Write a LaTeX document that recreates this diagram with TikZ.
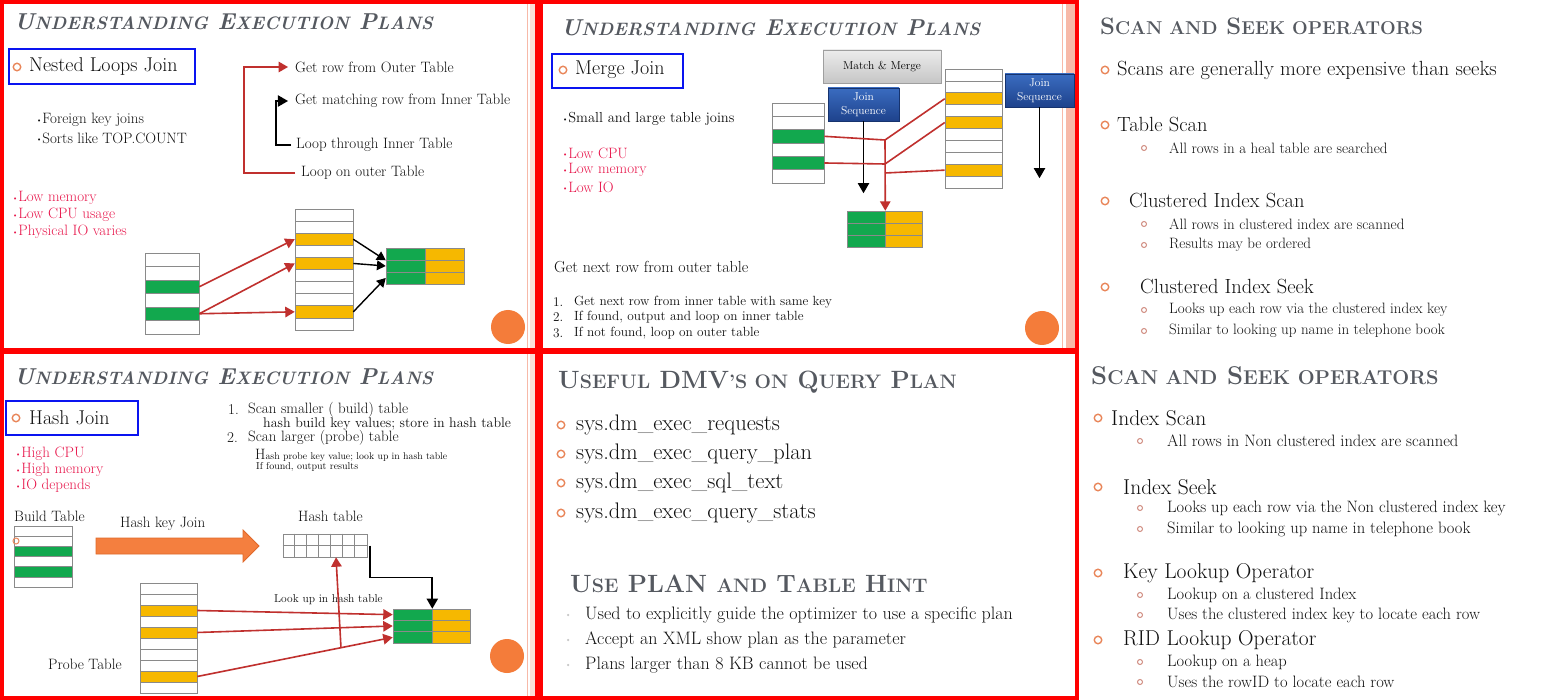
\documentclass[tikz,border=0pt]{standalone}
\usetikzlibrary{arrows,positioning}
\definecolor{ttlgray}{HTML}{555960}
\definecolor{txtblack}{HTML}{101010}
\definecolor{warnred}{HTML}{E8174C}
\definecolor{framered}{HTML}{FF0000}
\definecolor{boxblue}{HTML}{0A14F0}
\definecolor{rgreen}{HTML}{12A84E}
\definecolor{ryellow}{HTML}{F6B800}
\definecolor{arrred}{HTML}{C0302E}
\definecolor{dotorange}{HTML}{F47C3A}
\definecolor{ringorange}{HTML}{E9865A}
\definecolor{subpink}{HTML}{D08C80}
\definecolor{stripe}{HTML}{F7B9A8}
\definecolor{cellgray}{HTML}{8A8A8A}
\definecolor{seqtop}{HTML}{3A6CC0}
\definecolor{seqbot}{HTML}{1E428C}
\definecolor{seqedge}{HTML}{16336E}
\definecolor{bigorange}{HTML}{F47F3F}
\definecolor{bigedge}{HTML}{E0692A}
\newcommand{\smc}[1]{{\fontsize{\smcsize}{\smcsize}\selectfont #1}}
\def\smcsize{18}
\newcommand{\dotb}{\raisebox{1.5pt}{\fontsize{7}{7}\selectfont\textbullet}}
\begin{document}
\begin{tikzpicture}[x=1pt,y=-1pt,
    every node/.style={inner sep=0pt},
    ttl/.style 2 args={anchor=base west, text=ttlgray, font=\bfseries\fontsize{#1}{#1}\selectfont\def\smcsize{#2}},
    txt/.style={anchor=west, text=txtblack, font=\fontsize{#1}{#1}\selectfont},
    txt/.default=15,
    warn/.style={txt=#1, text=warnred},
    warn/.default=15,
    selbox/.style={draw=boxblue, line width=1.8pt, anchor=north west},
    ring/.style={circle, draw=ringorange, line width=1.4pt, minimum size=7.5pt},
    subring/.style={circle, draw=subpink, line width=1pt, minimum size=5pt},
    cell/.style={draw=cellgray, line width=0.6pt},
    redarr/.style={draw=arrred, line width=1.6pt, -triangle 60},
    blkarr/.style={draw=black, line width=1.8pt, -triangle 60},
    seqbox/.style={draw=seqedge, top color=seqtop, bottom color=seqbot, text=white, align=center, font=\fontsize{11.5}{14}\selectfont}]
\useasboundingbox (0,0) rectangle (1553,700);
\fill[white] (0,0) rectangle (1553,700);
%draw slide decorations
    \foreach \y in {4,354}{
       \fill[stripe!45] (530,\y) rectangle (536,\y+344);
       \draw[stripe, line width=1pt] (527,\y) -- (527,\y+344);}
    \draw[stripe, line width=1pt] (1062,4) -- (1062,348);
    \fill[stripe] (1066,4) rectangle (1075,348);
    \fill[dotorange] (508,327) circle (17pt) (1042,328) circle (17pt) (507,656) circle (17pt);

%%% nested loops join
    \node[ttl={23}{18}] (ttla) at (14,30) {\itshape U\smc{NDERSTANDING} E\smc{XECUTION} P\smc{LANS}};
    \node[selbox, minimum width=186pt, minimum height=35pt] (nlbox) at (8,48) {};
    \node[ring] (nlring) at (17,67) {};
    \node[txt=20] (nlj) at (29,67) {Nested Loops Join};
    \node[txt] (fkj) at (36,120) {\dotb Foreign key joins};
    \node[txt] (stc) at (36,138) {\dotb Sorts like TOP.COUNT};
    \node[warn] (nlw1) at (12,198) {\dotb Low memory};
    \node[warn] (nlw2) at (12,215) {\dotb Low CPU usage};
    \node[warn] (nlw3) at (12,232) {\dotb Physical IO varies};
    \node[txt] (getouter) at (295,67) {Get row from Outer Table};
    \node[txt] (getinner) at (295,101) {Get matching row from Inner Table};
    \node[txt] (loopinner) at (296,145) {Loop through Inner Table};
    \node[txt] (loopouter) at (301,173) {Loop on outer Table};
    \draw[redarr] ([xshift=-6pt]loopouter.west) -| ([xshift=-51pt]getouter.west) -- ([xshift=-7pt]getouter.west);
    \draw[blkarr] ([xshift=-5pt]loopinner.west) -| ([xshift=-19pt]getinner.west) -- ([xshift=-7pt]getinner.west);
%draw tables
    \foreach \i/\c in {1/white,2/white,3/rgreen,4/white,5/rgreen,6/white}
       \node[cell, fill=\c, minimum width=54pt, minimum height=13.5pt] (nlo\i) at (172,{253+13.5*(\i-0.5)}) {};
    \foreach \i/\c in {1/white,2/white,3/ryellow,4/white,5/ryellow,6/white,7/white,8/white,9/ryellow,10/white}
       \node[cell, fill=\c, minimum width=58pt, minimum height=12.1pt] (nli\i) at (324,{209+12.1*(\i-0.5)}) {};
    \foreach \i in {1,2,3}{
       \node[cell, fill=rgreen, minimum width=39pt, minimum height=12pt] (nlg\i) at (405.5,{248+12*(\i-0.5)}) {};
       \node[cell, fill=ryellow, minimum width=39pt, minimum height=12pt] (nly\i) at (444.5,{248+12*(\i-0.5)}) {};}
    \draw[redarr] (nlo3.east) -- (nli3.west);
    \draw[redarr] (nlo5.east) -- (nli5.west);
    \draw[redarr] (nlo5.east) -- (nli9.west);
    \draw[blkarr, line width=1.4pt] (nli3.east) -- (nlg1.south west);
    \draw[blkarr, line width=1.4pt] (nli5.east) -- (nlg2.west);
    \draw[blkarr, line width=1.4pt] (nli9.east) -- (nlg3.west);

%%% merge join
    \node[ttl={23}{18}] (ttlb) at (561,36) {\itshape U\smc{NDERSTANDING} E\smc{XECUTION} P\smc{LANS}};
    \node[selbox, minimum width=131pt, minimum height=34pt] (mjbox) at (551,53) {};
    \node[ring] (mjring) at (563,70) {};
    \node[txt=20] (mj) at (575,70) {Merge Join};
    \node[txt=14.5] (slt) at (562,119) {\dotb Small and large table joins};
    \node[warn] (mjw1) at (562,153) {\dotb Low CPU};
    \node[warn] (mjw2) at (562,170) {\dotb Low memory};
    \node[warn] (mjw3) at (562,187) {\dotb Low IO};
    \node[txt=16] (gnr) at (554,267) {Get next row from outer table};
    \foreach \n/\y/\t in {1/302/{Get next row from inner table with same key},2/317/{If found, output and loop on inner table},3/333/{If not found, loop on outer table}}{
       \node[txt=13.3] (mjn\n) at (553,\y) {\n.};
       \node[txt=13.3] (mjt\n) at (574,\y) {\t};}
    \node[draw=gray!75, top color=gray!15, bottom color=gray!45, minimum width=118pt, minimum height=33pt, font=\fontsize{11.5}{14}\selectfont] (mmbox) at (882,66.5) {Match \& Merge};
    \node[seqbox, minimum width=71pt, minimum height=33pt] (seqa) at (863.5,104.5) {Join\\Sequence};
    \node[seqbox, minimum width=69pt, minimum height=33pt] (seqb) at (1039.5,90.5) {Join\\Sequence};
    \draw[blkarr] (seqa.south) -- ++(0,72);
    \draw[blkarr] (seqb.south) -- ++(0,71);
    \foreach \i/\c in {1/white,2/white,3/rgreen,4/white,5/rgreen,6/white}
       \node[cell, fill=\c, minimum width=52pt, minimum height=13.33pt] (mlo\i) at (798,{103+13.33*(\i-0.5)}) {};
    \foreach \i/\c in {1/white,2/white,3/ryellow,4/white,5/ryellow,6/white,7/white,8/white,9/ryellow,10/white}
       \node[cell, fill=\c, minimum width=57pt, minimum height=11.9pt] (mli\i) at (973.5,{69+11.9*(\i-0.5)}) {};
    \foreach \i in {1,2,3}{
       \node[cell, fill=rgreen, minimum width=38pt, minimum height=12pt] (mlg\i) at (866,{211+12*(\i-0.5)}) {};
       \node[cell, fill=ryellow, minimum width=37pt, minimum height=12pt] (mly\i) at (903.5,{211+12*(\i-0.5)}) {};}
    \coordinate (ja) at (885,140);
    \coordinate (jb) at (885,164);
    \coordinate (jc) at (885,173);
    \draw[arrred, line width=1.6pt] (mlo3.east) -- (ja) -- (mli3.west);
    \draw[arrred, line width=1.6pt] (mlo5.east) -- (jb) -- (mli5.west);
    \draw[arrred, line width=1.6pt] (jc) -- (mli9.west);
    \draw[redarr] (ja) -- (mlg1.north east);

%%% hash join
    \node[ttl={23}{18}] (ttlc) at (14,385) {\itshape U\smc{NDERSTANDING} E\smc{XECUTION} P\smc{LANS}};
    \node[selbox, minimum width=132pt, minimum height=34pt] (hjbox) at (5,400) {};
    \node[ring] (hjring) at (16,418) {};
    \node[txt=20] (hj) at (29,418) {Hash Join};
    \node[warn] (hjw1) at (15,454) {\dotb High CPU};
    \node[warn] (hjw2) at (15,470) {\dotb High memory};
    \node[warn] (hjw3) at (15,486) {\dotb IO depends};
    \node[txt] (hn1) at (228,410) {1.};
    \node[txt] (hs1) at (248,410) {Scan smaller ( build) table};
    \node[txt=14] (hs1b) at (263,424) {hash build key values; store in hash table};
    \node[txt] (hn2) at (227,438) {2.};
    \node[txt] (hs2) at (248,438) {Scan larger (probe) table};
    \node[txt=9.8] (hs2b) at (255,455) {{\fontsize{15}{15}\selectfont H}ash probe key value; look up in hash table};
    \node[txt=10] (hs2c) at (256,467) {If found, output results};
    \node[txt] (btl) at (14,516) {Build Table};
    \node[txt] (hkj) at (120,524) {Hash key Join};
    \node[txt] (htl) at (298,516) {Hash table};
    \node[txt] (ptl) at (48,664) {Probe Table};
    \node[txt=11.5] (lkl) at (274,600) {Look up in hash table};
    \fill[bigorange, draw=bigedge, line width=0.8pt] (96,538) -- (243,538) -- (243,530) -- (259,546) -- (243,562) -- (243,554) -- (96,554) -- cycle;
    \foreach \i/\c in {1/white,2/white,3/rgreen,4/white,5/rgreen,6/white}
       \node[cell, fill=\c, minimum width=58pt, minimum height=10.17pt] (hbo\i) at (43,{526+10.17*(\i-0.5)}) {};
    \node[ring, minimum size=6pt, line width=1pt] (strayring) at (16,541) {};
    \foreach \i/\c in {1/white,2/white,3/ryellow,4/white,5/ryellow,6/white,7/white,8/white,9/ryellow,10/white}
       \node[cell, fill=\c, minimum width=57pt, minimum height=11pt] (hpr\i) at (168.5,{583+11*(\i-0.5)}) {};
    \foreach \i in {1,2,3}{
       \node[cell, fill=rgreen, minimum width=39pt, minimum height=11.33pt] (hrg\i) at (412.5,{609+11.33*(\i-0.5)}) {};
       \node[cell, fill=ryellow, minimum width=38pt, minimum height=11.33pt] (hry\i) at (451,{609+11.33*(\i-0.5)}) {};}
    \node[cell, minimum width=84pt, minimum height=23pt] (hgrid) at (325,545.5) {};
    \foreach \k in {1,...,6}
       \draw[cellgray, line width=0.6pt] ([xshift={\k*12pt}]hgrid.north west) -- ([xshift={\k*12pt}]hgrid.south west);
    \draw[cellgray, line width=0.6pt] (hgrid.west) -- (hgrid.east);
    \draw[redarr] (hpr3.east) -- (hrg1.west);
    \draw[redarr] (hpr5.east) -- (hrg2.west);
    \draw[redarr] (hpr9.east) -- (hrg3.west);
    \coordinate (lkup) at (341,648);
    \draw[redarr] (lkup) -- ([xshift=11pt]hgrid.south);
    \draw[blkarr] ([xshift=3pt]hgrid.east) -- ++(0,32) -| (hrg1.north east);

%%% useful dmvs
    \node[ttl={25}{19.5}] (ttld) at (558,389) {U\smc{SEFUL} DMV\smc{'S ON} Q\smc{UERY} P\smc{LAN}};
    \foreach \n/\y/\t in {1/425/requests,2/454/query\_plan,3/483/sql\_text,4/513/query\_stats}{
       \node[ring] (dvr\n) at (561,\y) {};
       \node[txt=22.5] (dvt\n) at (576,\y) {sys.dm\_exec\_\t};}
    \node[ttl={25}{19.5}] (ttle) at (570,592) {U\smc{SE} PLAN \smc{AND} T\smc{ABLE} H\smc{INT}};
    \foreach \n/\y/\t in {1/615/{Used to explicitly guide the optimizer to use a specific plan},2/640/{Accept an XML show plan as the parameter},3/665/{Plans larger than 8 KB cannot be used}}{
       \node[circle, fill=gray!45, minimum size=2.5pt] (hnd\n) at (568,\y) {};
       \node[txt=18] (hnt\n) at (585,\y) {\t};}

%%% scan and seek, first
    \node[ttl={23.8}{18.6}] (ttlf) at (1100,35) {S\smc{CAN AND} S\smc{EEK OPERATORS}};
    \foreach \n/\x/\y/\t in {1/1117/70/{Scans are generally more expensive than seeks},2/1117/125/{Table Scan},3/1129/201/{Clustered Index Scan},4/1140/287/{Clustered Index Seek}}{
       \node[ring] (ssr\n) at (1105,\y) {};
       \node[txt=20.5] (sst\n) at (\x,\y) {\t};}
    \foreach \n/\y/\t in {1/148/{All rows in a heal table are searched},2/224/{All rows in clustered index are scanned},3/245/{Results may be ordered},4/310/{Looks up each row via the clustered index key},5/331/{Similar to looking up name in telephone book}}{
       \node[subring] (ssb\n) at (1144,\y) {};
       \node[txt=15] (ssu\n) at (1169,\y) {\t};}

%%% scan and seek, second
    \node[ttl={25.7}{20}] (ttlg) at (1091,385) {S\smc{CAN AND} S\smc{EEK OPERATORS}};
    \foreach \n/\x/\y/\t in {1/1111/418/{Index Scan},2/1123/487/{Index Seek},3/1123/573/{Key Lookup Operator},4/1123/640/{RID Lookup Operator}}{
       \node[ring] (kyr\n) at (1098,\y) {};
       \node[txt=21.5] (kyt\n) at (\x,\y) {\t};}
    \foreach \n/\y/\t in {1/441/{All rows in Non clustered index are scanned},2/508/{Looks up each row via the Non clustered index key},3/529/{Similar to looking up name in telephone book},4/595/{Lookup on a clustered Index},5/615/{Uses the clustered index key to locate each row},6/662/{Lookup on a heap},7/682/{Uses the rowID to locate each row}}{
       \node[subring] (kyb\n) at (1140,\y) {};
       \node[txt=16.5] (kyu\n) at (1167,\y) {\t};}

%draw frames
    \begin{scope}[framered, line width=3.8pt]
       \draw (2,2) rectangle (537,350) (541,2) rectangle (1077,350);
       \draw (2,352) rectangle (537,698) (541,352) rectangle (1077,698);
    \end{scope}
\end{tikzpicture}
\end{document}
